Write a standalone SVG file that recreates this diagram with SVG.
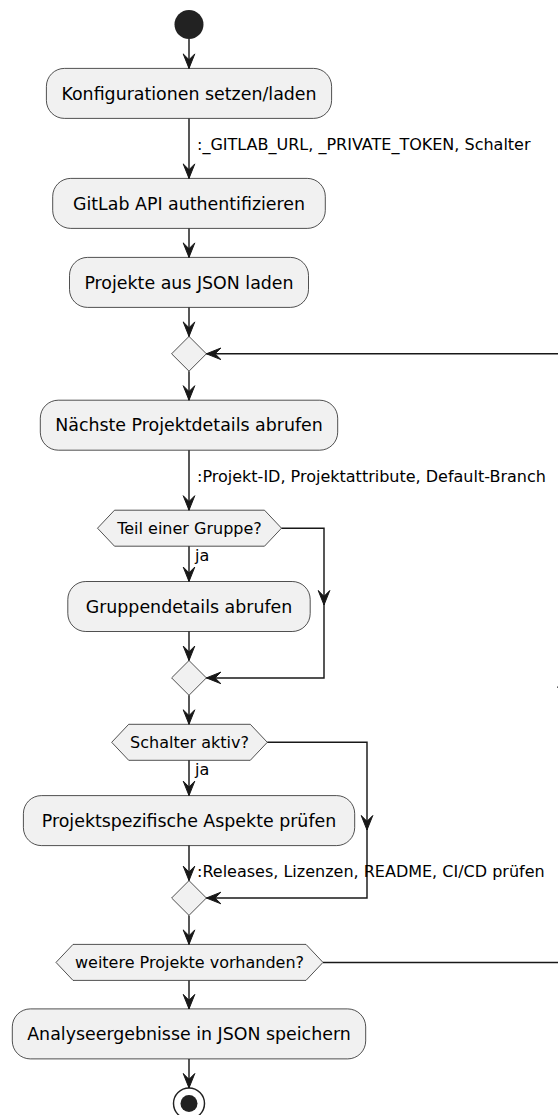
<svg xmlns="http://www.w3.org/2000/svg" width="558" height="1115" viewBox="0 0 558 1115">
<defs>
<style>
.box{fill:#F1F1F1;stroke:#181818;stroke-width:0.75}
.edge{fill:none;stroke:#181818;stroke-width:1.45}
.t{font-family:'DejaVu Sans','Liberation Sans',sans-serif;font-size:17.4px;fill:#000;text-anchor:middle}
.h{font-family:'DejaVu Sans','Liberation Sans',sans-serif;font-size:16px;fill:#000;text-anchor:middle}
.l{font-family:'DejaVu Sans','Liberation Sans',sans-serif;font-size:16px;fill:#000}
</style>
<marker id="arr" viewBox="-15 -7 16 14" refX="0" refY="0" markerWidth="16" markerHeight="14" markerUnits="userSpaceOnUse" orient="auto">
<path d="M-14.5,-5.8 L0,0 L-14.5,5.8 L-8.7,0 Z" fill="#181818" stroke="#181818" stroke-width="1"/>
</marker>
</defs>
<rect width="558" height="1115" fill="#FFFFFF"/>

<g id="start"><circle cx="189" cy="24.5" r="14.5" fill="#222222"/></g>

<g id="n1"><rect class="box" x="46.4" y="68.4" width="285.2" height="50" rx="18"/><text class="t" x="189" y="99.6">Konfigurationen setzen/laden</text></g>
<g id="n2"><rect class="box" x="52.7" y="178.4" width="272.6" height="50" rx="18"/><text class="t" x="189" y="209.6">GitLab API authentifizieren</text></g>
<g id="n3"><rect class="box" x="69.5" y="257.4" width="239" height="50" rx="18"/><text class="t" x="189" y="288.6">Projekte aus JSON laden</text></g>
<g id="d1"><polygon class="box" points="189,336.4 206.4,353.8 189,371.2 171.6,353.8"/></g>
<g id="n4"><rect class="box" x="40.3" y="400.2" width="297.4" height="50" rx="18"/><text class="t" x="189" y="431.4">Nächste Projektdetails abrufen</text></g>
<g id="c1"><polygon class="box" points="97.5,528.2 114.5,510.2 264.5,510.2 281.5,528.2 264.5,546.2 114.5,546.2"/><text class="h" x="189.5" y="534">Teil einer Gruppe?</text></g>
<g id="n5"><rect class="box" x="67.8" y="581.5" width="242.4" height="50" rx="18"/><text class="t" x="189" y="612.7">Gruppendetails abrufen</text></g>
<g id="d2"><polygon class="box" points="189,660.5 206.4,677.9 189,695.3 171.6,677.9"/></g>
<g id="c2"><polygon class="box" points="111.7,742.3 128.7,724.3 250.3,724.3 267.3,742.3 250.3,760.3 128.7,760.3"/><text class="h" x="189.5" y="748.1">Schalter aktiv?</text></g>
<g id="n6"><rect class="box" x="23.4" y="795.6" width="331.3" height="50" rx="18"/><text class="t" x="189" y="826.8">Projektspezifische Aspekte prüfen</text></g>
<g id="d3"><polygon class="box" points="189,880.6 206.4,898 189,915.4 171.6,898"/></g>
<g id="c3"><polygon class="box" points="56,962.4 73,944.4 306,944.4 323,962.4 306,980.4 73,980.4"/><text class="h" x="189.5" y="968.2">weitere Projekte vorhanden?</text></g>
<g id="n7"><rect class="box" x="12.3" y="1008.9" width="353.4" height="50" rx="18"/><text class="t" x="189" y="1040.1">Analyseergebnisse in JSON speichern</text></g>
<g id="end"><circle cx="189" cy="1103.5" r="15.5" fill="#FFFFFF" stroke="#222222" stroke-width="1.45"/><circle cx="189" cy="1103.5" r="8.5" fill="#222222"/></g>

<g id="connectors">
<path class="edge" d="M189,39 V68.4" marker-end="url(#arr)"/>
<path class="edge" d="M189,118.4 V178.4" marker-end="url(#arr)"/>
<text class="l" x="197" y="150.4">:_GITLAB_URL, _PRIVATE_TOKEN, Schalter</text>
<path class="edge" d="M189,228.4 V257.4" marker-end="url(#arr)"/>
<path class="edge" d="M189,307.4 V336.4" marker-end="url(#arr)"/>
<path class="edge" d="M189,371.2 V400.2" marker-end="url(#arr)"/>
<path class="edge" d="M189,450.2 V510.2" marker-end="url(#arr)"/>
<text class="l" x="197" y="481.7">:Projekt-ID, Projektattribute, Default-Branch</text>
<path class="edge" d="M189,546.2 V581.5" marker-end="url(#arr)"/>
<text class="l" x="195" y="561">ja</text>
<path class="edge" d="M281.5,528.2 H324 V605" marker-end="url(#arr)"/>
<path class="edge" d="M324,604 V677.9 H206.4" marker-end="url(#arr)"/>
<path class="edge" d="M189,631.5 V660.5" marker-end="url(#arr)"/>
<path class="edge" d="M189,695.3 V724.3" marker-end="url(#arr)"/>
<path class="edge" d="M189,760.3 V795.6" marker-end="url(#arr)"/>
<text class="l" x="195" y="774.5">ja</text>
<path class="edge" d="M267.3,742.3 H367 V830" marker-end="url(#arr)"/>
<path class="edge" d="M367,829 V898 H206.4" marker-end="url(#arr)"/>
<path class="edge" d="M189,845.6 V880.6" marker-end="url(#arr)"/>
<text class="l" x="197" y="877">:Releases, Lizenzen, README, CI/CD prüfen</text>
<path class="edge" d="M189,915.4 V944.4" marker-end="url(#arr)"/>
<path class="edge" d="M323,962.4 H563.5 V673" marker-end="url(#arr)"/>
<path class="edge" d="M563.5,674 V353.8 H206.4" marker-end="url(#arr)"/>
<path class="edge" d="M189,980.4 V1008.9" marker-end="url(#arr)"/>
<path class="edge" d="M189,1058.9 V1088" marker-end="url(#arr)"/>
</g>
</svg>
